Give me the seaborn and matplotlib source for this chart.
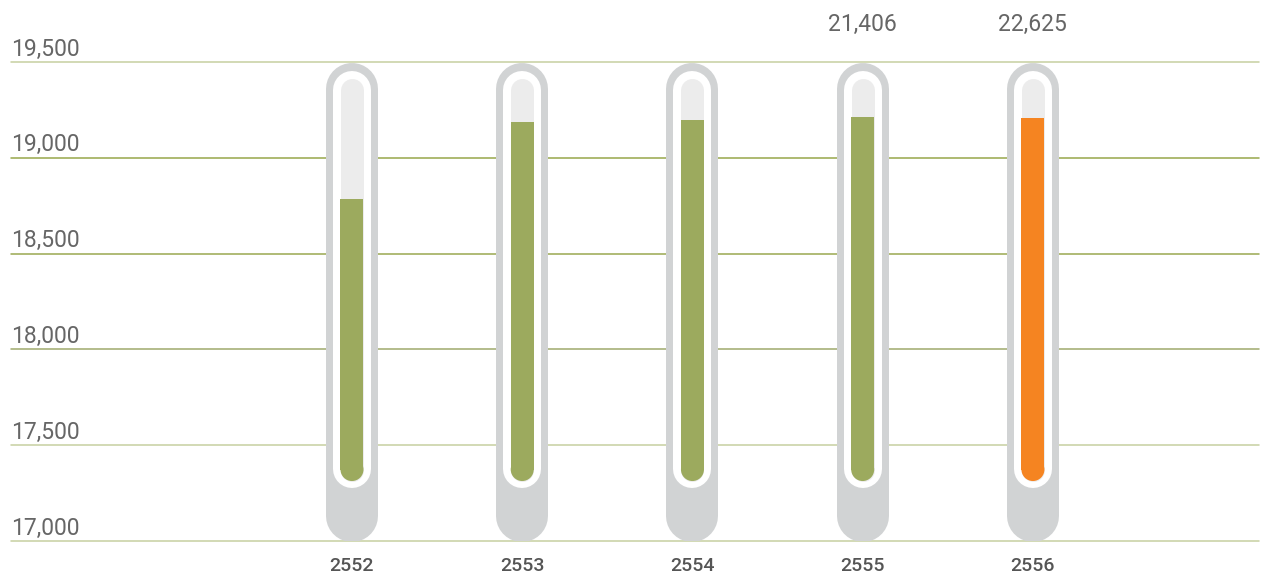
import matplotlib
matplotlib.use("Agg")
import matplotlib.pyplot as plt
import matplotlib.transforms as mtransforms
import seaborn as sns
import pandas as pd

# data
years = ["2552", "2553", "2554", "2555", "2556"]
levels = [18785, 19187, 19197, 19213, 19208]
value_labels = ["", "", "", "21,406", "22,625"]
yticks = [17000, 17500, 18000, 18500, 19000, 19500]
grid_colors = ["#c9d1a5", "#c9d1a5", "#a3ad72", "#9eac58", "#9cab52", "#c9d1a5"]

GREEN = "#9caa5e"
ORANGE = "#f58421"
OUTER = "#d1d3d4"
TUBE = "#ececec"

sns.set_theme(style="white")
plt.rcParams["font.family"] = ["Roboto", "DejaVu Sans"]

fig = plt.figure(figsize=(12.62, 5.73), dpi=100)
ax = fig.add_axes([11 / 1262, 32 / 573, 1248 / 1262, 479 / 573])
ax.set_facecolor("white")
for s in ax.spines.values():
    s.set_visible(False)

px = 2500 / 479  # data units per pixel
pt = 72 / 100    # points per pixel

for yv, c in zip(yticks, grid_colors):
    ax.axhline(yv, color=c, lw=1.6 * pt, zorder=0, clip_on=False)

df = pd.DataFrame({"year": years, "level": levels})
colors = [GREEN] * (len(years) - 1) + [ORANGE]

fill_bottom = 17313
tube_r = 11.5 * px
for i in range(len(years)):
    # outer grey capsule
    ax.plot([i, i], [16995 + 26 * px, 19495 - 26 * px], color=OUTER,
            lw=52 * pt, solid_capstyle="round", zorder=1)
    # white inner capsule
    ax.plot([i, i], [17277 + 19 * px, 19453 - 19 * px], color="white",
            lw=38 * pt, solid_capstyle="round", zorder=2)
    # light tube
    ax.plot([i, i], [17313 + tube_r, 19416 - tube_r], color=TUBE,
            lw=23 * pt, solid_capstyle="round", zorder=3)

sns.barplot(data=df, x="year", y="level", hue="year", palette=colors,
            width=23 / 170.25, legend=False, ax=ax, zorder=4, saturation=1)
for bar in ax.patches:
    top = bar.get_height()
    bar.set_y(fill_bottom + tube_r)
    bar.set_height(top - fill_bottom - tube_r)
    bar.set_linewidth(0)
sns.scatterplot(x=list(range(len(years))), y=[fill_bottom + tube_r] * len(years),
                hue=years, palette=colors, s=(23 * pt) ** 2, linewidth=0,
                legend=False, ax=ax, zorder=4)

ax.set_xlim(-2.003, 5.328)
ax.set_ylim(17000, 19500)
ax.set_xlabel("")
ax.set_ylabel("")
ax.set_xticks([])
ax.set_yticks([])

off = mtransforms.offset_copy(ax.get_yaxis_transform(), fig=fig, x=0, y=1.5 * pt, units="points")
for yv in yticks:
    ax.text(0, yv, f"{yv:,}", transform=off, ha="left", va="bottom",
            fontsize=16.5, color="#666666", fontweight="normal")

for i, (yr, lab) in enumerate(zip(years, value_labels)):
    ax.text(i, 16995 - 15 * px, yr, ha="center", va="top", fontsize=14,
            color="#555555", fontweight="medium")
    if lab:
        ax.text(i, 19500 + 26 * px, lab, ha="center", va="bottom",
                fontsize=16.5, color="#666666", fontweight="normal")

fig.savefig("out.png", dpi=100)
